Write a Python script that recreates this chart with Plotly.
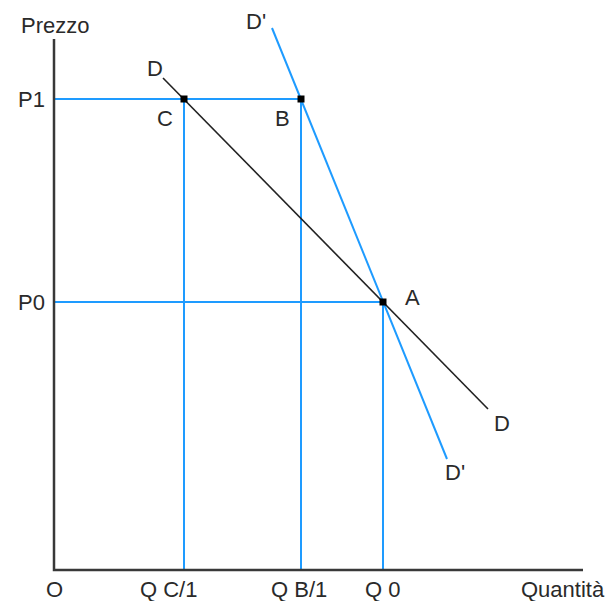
import plotly.graph_objects as go

# Price / quantity levels
P1 = 471
P0 = 268
Q_C1 = 130
Q_B1 = 247
Q_0 = 329

# Demand curve D and the steeper demand curve D'
D_q = [109, 434]
D_p = [492, 161]
Dp_q = [218, 393]
Dp_p = [542, 111]

# Marked points
point_names = ["C", "B", "A"]
point_q = [Q_C1, Q_B1, Q_0]
point_p = [P1, P1, P0]

# Axis extents
X_MAX = 529
Y_MAX = 531

x_tick_vals = [0, Q_C1, Q_B1, Q_0]
x_tick_text = ["O", "Q C/1", "Q B/1", "Q 0"]
x_tick_shift = [0, -16, -2, -1]  # label centring under each tick
y_tick_vals = [P1, P0]
y_tick_text = ["P1", "P0"]

BLUE = "#1e9bff"
AXIS = "#383838"
FONT = dict(family="Liberation Sans, Arial, sans-serif", size=22, color="#2a2a2a")

fig = go.Figure()

# Blue guide lines
guides = [
    ([0, Q_B1], [P1, P1]),
    ([0, Q_0], [P0, P0]),
    ([Q_C1, Q_C1], [0, P1]),
    ([Q_B1, Q_B1], [0, P1]),
    ([Q_0, Q_0], [0, P0]),
]
for gx, gy in guides:
    fig.add_trace(go.Scatter(x=gx, y=gy, mode="lines",
                             line=dict(color=BLUE, width=2), hoverinfo="skip"))

# D' (blue) and D (black)
fig.add_trace(go.Scatter(x=Dp_q, y=Dp_p, mode="lines",
                         line=dict(color=BLUE, width=2), hoverinfo="skip"))
fig.add_trace(go.Scatter(x=D_q, y=D_p, mode="lines",
                         line=dict(color="#222222", width=1.6), hoverinfo="skip"))

# Axes
fig.add_trace(go.Scatter(x=[0, 0, X_MAX], y=[Y_MAX, 0, 0], mode="lines",
                         line=dict(color=AXIS, width=2.5), hoverinfo="skip"))

# Points
fig.add_trace(go.Scatter(x=point_q, y=point_p, mode="markers",
                         marker=dict(symbol="square", size=7, color="#000000"),
                         hoverinfo="skip"))

ann = []
def label(text, x, y):
    ann.append(dict(text=text, x=x, y=y, xref="x", yref="y", showarrow=False,
                    font=FONT, xanchor="center", yanchor="middle"))

# Tick labels
for v, t, s in zip(x_tick_vals, x_tick_text, x_tick_shift):
    label(t, v + s, -19)
for v, t in zip(y_tick_vals, y_tick_text):
    label(t, -23, v)

# Axis titles
label("Prezzo", 1, 545)
label("Quantità", 509, -19)

# Curve labels
label("D", 101, 502)
label("D'", 202, 549)
label("D", 448, 147)
label("D'", 401, 98)

# Point labels
for name, q, p, dq, dp in zip(point_names, point_q, point_p,
                              [-19, -19, 29], [-19, -19, 5]):
    label(name, q + dq, p + dp)

fig.update_layout(
    width=614, height=601,
    margin=dict(l=0, r=0, t=0, b=0),
    paper_bgcolor="white", plot_bgcolor="white",
    showlegend=False,
    annotations=ann,
    xaxis=dict(range=[-54, 560], visible=False, fixedrange=True),
    yaxis=dict(range=[-31, 570], visible=False, fixedrange=True),
)

fig.write_html("out.html")
